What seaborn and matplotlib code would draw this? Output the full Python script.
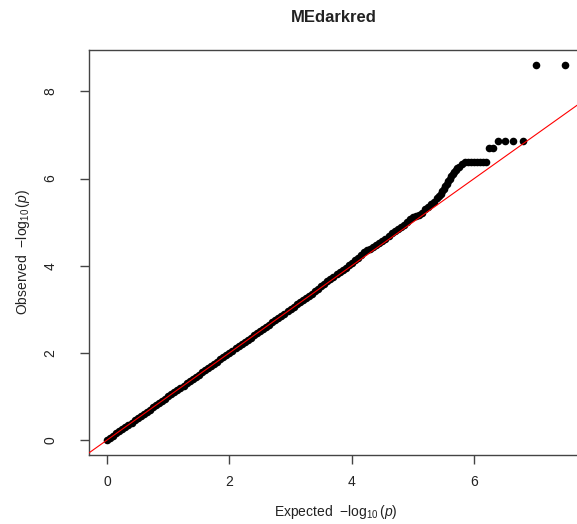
import seaborn as sns
import matplotlib.pyplot as plt

# QQ plot values (expected vs observed -log10 p)
expected = [
    0.00, 0.05, 0.10, 0.15, 0.20, 0.25, 0.30, 0.35, 0.40, 0.45,
    0.50, 0.55, 0.60, 0.65, 0.70, 0.75, 0.80, 0.85, 0.90, 0.95,
    1.00, 1.05, 1.10, 1.15, 1.20, 1.25, 1.30, 1.35, 1.40, 1.45,
    1.50, 1.55, 1.60, 1.65, 1.70, 1.75, 1.80, 1.85, 1.90, 1.95,
    2.00, 2.05, 2.10, 2.15, 2.20, 2.25, 2.30, 2.35, 2.40, 2.45,
    2.50, 2.55, 2.60, 2.65, 2.70, 2.75, 2.80, 2.85, 2.90, 2.95,
    3.00, 3.05, 3.10, 3.15, 3.20, 3.25, 3.30, 3.35, 3.40, 3.45,
    3.50, 3.55, 3.60, 3.65, 3.70, 3.75, 3.80, 3.85, 3.90, 3.95,
    4.00, 4.05, 4.10, 4.15, 4.20, 4.25, 4.30, 4.35, 4.40, 4.45,
    4.50, 4.55, 4.60, 4.65, 4.70, 4.75, 4.80, 4.85, 4.90, 4.95,
    5.00, 5.05, 5.10, 5.15, 5.20, 5.25, 5.30, 5.35, 5.40, 5.425,
    5.45, 5.475, 5.50, 5.525, 5.55, 5.575, 5.60, 5.625, 5.65, 5.675,
    5.70, 5.725, 5.75, 5.80, 5.85, 5.90, 5.95, 6.00, 6.05, 6.10,
    6.15, 6.20, 6.24, 6.30, 6.39, 6.50, 6.63, 6.80, 7.01, 7.49,
]
observed = [
    0.00, 0.05, 0.10, 0.15, 0.20, 0.25, 0.30, 0.35, 0.40, 0.45,
    0.50, 0.55, 0.60, 0.65, 0.70, 0.75, 0.80, 0.85, 0.90, 0.95,
    1.00, 1.05, 1.10, 1.15, 1.20, 1.25, 1.30, 1.35, 1.40, 1.45,
    1.50, 1.55, 1.60, 1.65, 1.70, 1.75, 1.80, 1.85, 1.90, 1.95,
    2.00, 2.05, 2.10, 2.15, 2.20, 2.25, 2.30, 2.35, 2.40, 2.45,
    2.50, 2.55, 2.60, 2.65, 2.70, 2.75, 2.80, 2.85, 2.90, 2.96,
    3.01, 3.06, 3.11, 3.16, 3.21, 3.26, 3.31, 3.36, 3.42, 3.47,
    3.53, 3.58, 3.64, 3.69, 3.74, 3.80, 3.86, 3.90, 3.95, 4.01,
    4.07, 4.12, 4.18, 4.25, 4.31, 4.35, 4.38, 4.42, 4.47, 4.52,
    4.56, 4.62, 4.68, 4.74, 4.80, 4.84, 4.88, 4.94, 5.01, 5.08,
    5.12, 5.14, 5.16, 5.20, 5.29, 5.35, 5.41, 5.47, 5.55, 5.60,
    5.65, 5.71, 5.77, 5.83, 5.88, 5.94, 6.00, 6.05, 6.10, 6.15,
    6.20, 6.24, 6.27, 6.33, 6.37, 6.38, 6.38, 6.38, 6.38, 6.38,
    6.38, 6.39, 6.71, 6.71, 6.87, 6.87, 6.87, 6.87, 8.61, 8.61,
]

title = "MEdarkred"
x_ticks = [0, 2, 4, 6]
y_ticks = [0, 2, 4, 6, 8]

sns.set_theme(style="ticks")
plt.rcParams['font.family'] = ['Liberation Sans', 'DejaVu Sans']
plt.rcParams['mathtext.fontset'] = 'custom'
plt.rcParams['mathtext.rm'] = 'Liberation Sans'
plt.rcParams['mathtext.it'] = 'Liberation Sans:italic'

fig = plt.figure(figsize=(5.77, 5.24), dpi=100)
ax = fig.add_axes([88.7 / 577, 1 - 455 / 524, 495 / 577, 405 / 524])

sns.scatterplot(x=expected, y=observed, color='black', s=30,
                linewidth=0, ax=ax, zorder=2)
ax.axline((0, 0), slope=1, color='red', lw=0.8, zorder=3)

ax.set_xlim(-0.30, 7.79)
ax.set_ylim(-0.344, 8.95)
ax.set_xticks(x_ticks)
ax.set_yticks(y_ticks)
for s in ax.spines.values():
    s.set_color('#444444')
    s.set_linewidth(1.0)
    s.set_visible(True)
ax.tick_params(axis='both', length=6.5, width=1.0, color='#444444',
               labelsize=10, labelcolor='#222222')
ax.tick_params(axis='x', pad=8)
ax.tick_params(axis='y', pad=16, labelrotation=90)
for lab in ax.get_yticklabels():
    lab.set_va('center')

ax.set_xlabel(r"Expected  $-\log_{10}(p)$", fontsize=10, color='#222222', labelpad=10)
ax.set_ylabel(r"Observed  $-\log_{10}(p)$", fontsize=10, color='#222222', labelpad=8)
fig.text(334 / 577, 1 - 17 / 524, title, ha='center', va='center',
         fontsize=12, fontweight='bold', color='#222222')

fig.savefig("out.png", dpi=100, facecolor='white')
